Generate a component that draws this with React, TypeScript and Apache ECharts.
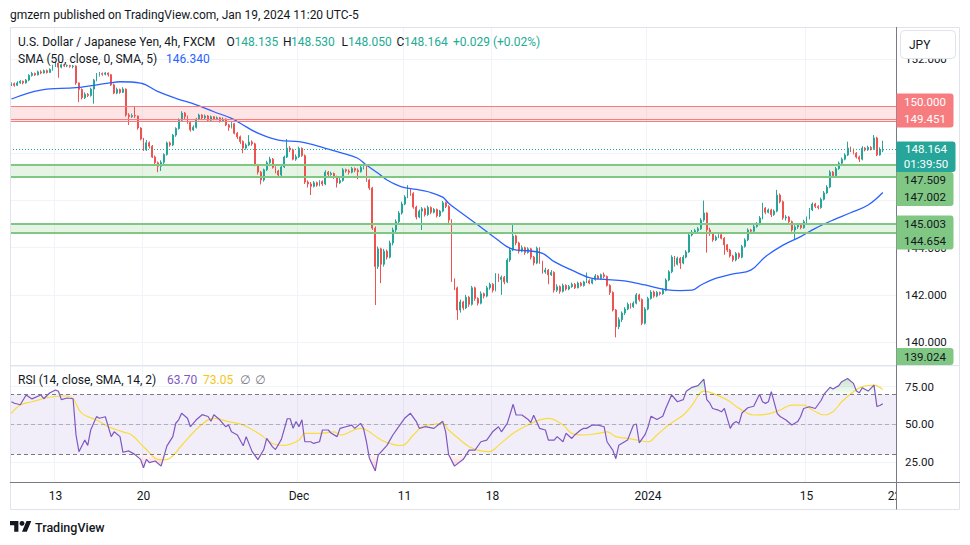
import React, { useEffect, useRef } from "react";
import * as echarts from "echarts";

echarts.graphic.registerShape(
  "tvlogo",
  echarts.graphic.extendPath("M14 22H7V11H0V4h14v18zM28 22h-8l7.5-18h8L28 22z", {})
);

// ---------- DATA ----------
const FIRST_OPEN = 150.9;

const closes = [
  150.95, 150.88, 150.98, 151.05, 150.98, 151.10, 151.30, 151.38, 151.32, 151.45,
  151.40, 151.50, 151.42, 151.55, 151.70, 151.82, 151.65, 151.75, 151.70, 151.72,
  151.68, 151.70, 150.98, 150.70, 150.35, 150.50, 150.45, 150.72, 151.10, 151.30,
  151.38, 151.35, 151.40, 151.33, 150.90, 150.55, 150.70, 150.58, 150.72, 149.62,
  149.55, 149.60, 149.58, 149.07, 148.60, 148.14, 148.45, 148.30, 147.84, 147.60,
  147.45, 147.62, 147.95, 148.44, 148.35, 148.77, 149.05, 149.40, 149.70, 149.55,
  149.30, 148.99, 149.10, 149.45, 149.62, 149.50, 149.58, 149.40, 149.55, 149.45,
  149.50, 149.38, 149.45, 149.20, 149.10, 149.25, 148.85, 148.70, 148.50, 148.22,
  148.35, 148.48, 148.40, 147.50, 147.20, 146.87, 147.30, 147.60, 147.75, 147.40,
  147.25, 147.08, 147.42, 147.84, 148.22, 148.15, 147.75, 147.85, 148.20, 147.90,
  146.78, 146.70, 146.60, 146.75, 146.65, 146.80, 146.70, 147.20, 147.10, 147.15,
  147.00, 146.75, 146.85, 147.30, 147.25, 147.20, 147.35, 147.28, 147.22, 147.40,
  147.45, 146.87, 146.53, 144.83, 143.20, 143.95, 143.30, 143.85, 143.60, 144.20,
  144.75, 145.10, 145.47, 145.85, 146.15, 146.45, 146.30, 145.72, 145.30, 145.55,
  145.65, 145.40, 145.70, 145.50, 145.62, 145.35, 145.55, 145.90, 145.75, 145.17,
  142.63, 142.30, 141.36, 141.70, 141.45, 141.90, 141.60, 142.30, 141.85, 141.65,
  142.05, 141.95, 142.30, 142.45, 142.20, 142.84, 142.65, 142.75, 142.55, 143.48,
  143.90, 144.50, 144.20, 143.85, 144.00, 143.80, 143.95, 143.60, 143.35, 143.98,
  143.40, 142.97, 143.05, 142.85, 142.95, 142.20, 142.35, 142.15, 142.40, 142.25,
  142.35, 142.45, 142.30, 142.50, 142.40, 142.55, 142.60, 142.50, 142.65, 142.80,
  142.70, 142.85, 142.78, 142.40, 142.10, 141.36, 140.65, 140.95, 141.23, 141.40,
  141.60, 141.50, 141.65, 142.00, 141.80, 140.80, 141.40, 141.85, 142.12, 141.95,
  142.10, 142.05, 142.20, 142.63, 142.98, 143.60, 143.30, 143.55, 143.35, 143.60,
  143.82, 144.54, 144.65, 144.72, 144.80, 145.17, 145.47, 144.75, 144.60, 144.33,
  144.45, 144.55, 144.40, 144.12, 143.90, 143.65, 143.48, 143.75, 143.60, 144.05,
  144.33, 144.75, 144.70, 144.90, 145.00, 145.26, 145.68, 145.50, 145.60, 145.40,
  145.55, 146.23, 145.95, 145.26, 145.30, 145.10, 144.75, 144.88, 144.95, 144.85,
  145.10, 145.26, 145.60, 145.85, 145.75, 145.70, 146.05, 146.32, 146.57, 147.20,
  147.05, 147.35, 147.58, 147.75, 147.93, 148.22, 148.15, 148.00, 147.84, 147.75,
  148.22, 148.15, 148.25, 148.20, 148.65, 147.93, 148.135, 148.164,
];

const highs = [
  151.00, 151.00, 151.05, 151.10, 151.08, 151.15, 151.35, 151.45, 151.42, 151.50,
  151.52, 151.55, 151.55, 151.60, 151.75, 151.90, 151.85, 151.80, 151.78, 151.76,
  151.75, 151.74, 151.72, 151.00, 150.75, 150.58, 150.55, 150.78, 151.15, 151.40,
  151.44, 151.42, 151.44, 151.42, 151.35, 150.95, 150.78, 150.74, 150.80, 150.75,
  149.70, 149.68, 149.96, 149.60, 149.10, 148.65, 148.56, 148.50, 148.35, 147.90,
  147.65, 147.70, 148.00, 148.50, 148.50, 148.82, 149.10, 149.48, 149.78, 149.75,
  149.60, 149.35, 149.18, 149.50, 149.68, 149.66, 149.64, 149.62, 149.60, 149.58,
  149.56, 149.54, 149.52, 149.48, 149.25, 149.32, 149.28, 148.90, 148.75, 148.55,
  148.42, 148.77, 148.55, 148.45, 147.55, 147.25, 147.35, 147.68, 147.85, 147.80,
  147.45, 147.30, 147.48, 147.90, 148.60, 148.30, 148.20, 147.95, 148.28, 148.25,
  147.95, 146.85, 146.78, 146.82, 146.80, 146.86, 146.85, 147.28, 147.25, 147.22,
  147.18, 147.05, 146.95, 147.38, 147.35, 147.32, 147.42, 147.40, 147.36, 147.50,
  147.55, 147.50, 146.92, 146.58, 144.90, 144.05, 144.00, 143.95, 143.92, 144.30,
  144.85, 145.20, 145.55, 145.95, 146.22, 146.65, 146.50, 146.35, 145.78, 145.62,
  145.72, 145.70, 145.78, 145.75, 145.68, 145.66, 145.60, 145.98, 145.95, 145.80,
  145.20, 142.70, 142.35, 141.80, 141.75, 142.00, 141.95, 142.38, 142.35, 141.90,
  142.15, 142.10, 142.38, 142.52, 142.50, 142.92, 142.90, 142.82, 142.80, 143.55,
  144.00, 144.96, 144.55, 144.25, 144.10, 144.05, 144.02, 144.00, 143.65, 144.05,
  144.02, 143.45, 143.15, 143.10, 143.05, 143.00, 142.45, 142.40, 142.48, 142.45,
  142.42, 142.52, 142.50, 142.56, 142.55, 142.60, 142.95, 142.66, 142.72, 142.88,
  142.85, 142.90, 142.95, 142.82, 142.45, 142.15, 141.40, 141.05, 141.30, 141.48,
  141.68, 141.65, 141.72, 142.08, 142.05, 141.85, 141.48, 141.92, 142.20, 142.18,
  142.16, 142.14, 142.28, 142.70, 143.05, 143.68, 143.65, 143.62, 143.60, 143.68,
  143.90, 144.62, 144.75, 144.80, 144.88, 145.25, 146.00, 145.50, 144.85, 144.65,
  144.52, 144.62, 144.60, 144.45, 144.15, 143.95, 143.70, 143.82, 143.80, 144.12,
  144.40, 144.82, 144.80, 144.98, 145.08, 145.34, 145.90, 145.72, 145.66, 145.65,
  145.62, 146.45, 146.30, 146.00, 145.38, 145.34, 145.15, 144.95, 145.02, 145.00,
  145.18, 145.32, 145.68, 145.92, 145.90, 145.80, 146.12, 146.40, 146.65, 147.28,
  147.25, 147.42, 147.65, 147.82, 148.00, 148.49, 148.28, 148.20, 148.05, 147.90,
  148.30, 148.26, 148.32, 148.30, 148.77, 148.70, 148.25, 148.53,
];

const lows = [
  150.85, 150.82, 150.85, 150.95, 150.92, 150.95, 151.05, 151.25, 151.28, 151.30,
  151.35, 151.38, 151.38, 151.40, 151.50, 151.65, 151.20, 151.60, 151.65, 151.65,
  151.62, 151.60, 150.90, 150.17, 150.28, 150.30, 150.38, 150.40, 150.10, 151.05,
  151.25, 151.28, 151.30, 151.25, 150.85, 150.50, 150.50, 150.52, 150.55, 149.55,
  149.20, 149.50, 149.50, 149.00, 148.55, 148.10, 148.10, 148.20, 147.80, 147.50,
  147.20, 147.25, 147.55, 147.90, 148.28, 148.30, 148.70, 149.00, 149.35, 149.45,
  149.25, 148.92, 148.95, 149.05, 149.40, 149.45, 149.45, 149.35, 149.35, 149.40,
  149.40, 149.30, 149.32, 149.15, 148.95, 149.05, 148.80, 148.60, 148.40, 148.00,
  148.15, 148.30, 148.32, 147.45, 147.10, 146.68, 146.80, 147.25, 147.55, 147.35,
  147.15, 146.95, 147.00, 147.38, 147.80, 148.05, 147.70, 147.68, 147.80, 147.85,
  146.70, 146.55, 146.23, 146.55, 146.58, 146.60, 146.62, 146.65, 147.02, 147.05,
  146.92, 146.55, 146.70, 146.80, 147.18, 147.10, 147.15, 147.20, 146.90, 147.18,
  147.32, 146.80, 146.45, 144.75, 141.57, 143.10, 142.50, 143.20, 143.50, 143.55,
  144.10, 144.65, 145.00, 145.40, 145.80, 146.10, 146.20, 145.65, 145.20, 145.25,
  144.75, 145.32, 145.35, 145.42, 145.45, 145.28, 145.30, 145.50, 145.68, 145.05,
  142.55, 142.20, 140.94, 141.25, 141.35, 141.40, 141.50, 141.55, 141.75, 141.55,
  141.60, 141.85, 141.90, 142.22, 142.10, 142.15, 142.55, 142.00, 142.45, 142.50,
  143.40, 143.85, 144.10, 143.75, 143.80, 143.70, 143.75, 143.50, 143.25, 143.30,
  143.32, 142.90, 142.90, 142.45, 142.80, 142.10, 142.12, 142.05, 142.10, 142.18,
  142.20, 142.30, 142.25, 142.28, 142.35, 142.35, 142.50, 142.45, 142.45, 142.60,
  142.65, 142.65, 142.70, 142.35, 142.00, 141.30, 140.20, 140.55, 140.85, 141.15,
  141.35, 141.42, 141.45, 141.60, 141.72, 140.72, 140.75, 141.35, 141.80, 141.88,
  141.90, 141.98, 142.00, 142.15, 142.58, 142.92, 143.20, 143.25, 143.10, 143.30,
  143.55, 143.78, 144.48, 144.58, 144.65, 144.75, 145.10, 143.79, 144.50, 144.25,
  144.28, 144.40, 144.35, 143.70, 143.82, 143.58, 143.40, 143.42, 143.52, 143.55,
  144.00, 144.28, 144.62, 144.65, 144.85, 144.95, 145.20, 145.42, 145.45, 145.30,
  145.35, 145.50, 145.88, 145.18, 145.15, 145.02, 144.68, 144.33, 144.80, 144.78,
  144.80, 145.05, 145.20, 145.55, 145.68, 145.62, 145.65, 146.00, 146.28, 146.52,
  146.98, 147.00, 147.30, 147.52, 147.70, 147.88, 148.05, 147.95, 147.78, 147.63,
  147.70, 148.08, 148.10, 148.12, 148.15, 147.88, 147.90, 148.05,
];

// SMA(50) line: [candle index, value]
const smaPoints: [number, number][] = [
  [0, 150.3], [10, 150.68], [22, 150.78], [33, 150.97], [37, 151.03], [44, 150.97],
  [50, 150.61], [56, 150.33], [63, 150.05], [69, 149.76], [75, 149.48], [78, 149.27],
  [84, 148.85], [91, 148.56], [98, 148.49], [101, 148.42], [107, 148.21], [113, 148.0],
  [118, 147.79], [121, 147.5], [125, 147.15], [128, 146.87], [133, 146.58], [138, 146.47],
  [142, 146.37], [147, 146.14], [149, 145.88], [152, 145.6], [159, 144.96], [165, 144.4],
  [171, 143.93], [176, 143.87], [181, 143.76], [185, 143.41], [191, 143.05], [198, 142.7],
  [202, 142.66], [209, 142.59], [216, 142.42], [223, 142.22], [228, 142.18], [232, 142.2],
  [235, 142.42], [240, 142.7], [246, 142.89], [252, 143.05], [257, 143.62], [263, 144.11],
  [269, 144.47], [274, 144.82], [280, 145.17], [286, 145.48], [292, 145.81], [297, 146.34],
];

// RSI(14): [candle index, value]
const rsiPoints: [number, number][] = [
  [0, 65], [1, 64], [3, 63], [5, 69.5], [7, 66.9], [10, 69.5], [11, 67], [13, 70.8], [15, 72.8],
  [16, 72], [17, 66.4], [19, 67.5], [21, 67], [22, 42.9], [23, 31.8], [25, 39.5], [26, 36],
  [27, 46.2], [29, 55.1], [30, 54], [32, 55], [34, 41.8], [35, 45], [37, 41.8], [38, 31.4],
  [40, 32.3], [42, 30], [44, 26.7], [45, 21.1], [46, 26.7], [47, 24.5], [49, 25.6], [51, 22.2],
  [53, 35.7], [55, 41.8], [56, 50.7], [57, 53], [58, 57.3], [60, 54], [61, 48.4], [63, 53],
  [65, 56.4], [67, 55.2], [68, 52], [69, 56.4], [71, 53], [73, 48.4], [74, 49.5], [75, 45],
  [77, 42.9], [79, 35.7], [80, 41.8], [82, 32], [84, 26.5], [86, 33.2], [87, 40.6], [89, 35],
  [90, 33.2], [92, 40], [94, 53.7], [95, 53.7], [96, 47.3], [97, 51.8], [98, 48.4], [99, 53],
  [100, 38.4], [102, 38.4], [103, 37.3], [105, 38.4], [106, 46.2], [108, 46.2], [109, 44],
  [111, 41.8], [112, 47.3], [114, 48.4], [116, 49.5], [117, 47.3], [119, 50.6], [120, 47.3],
  [121, 38.4], [122, 27.5], [124, 19], [125, 29.5], [128, 36], [129, 39.5], [130, 42.9],
  [132, 48.4], [134, 54], [136, 57.3], [138, 51.8], [139, 47.3], [141, 48.4], [144, 47.3],
  [147, 52], [148, 45], [149, 29.9], [151, 22.2], [154, 26.7], [156, 32.8], [158, 32.8],
  [160, 38.4], [162, 39.5], [164, 45], [166, 48.4], [167, 45], [169, 50.6], [171, 63.3],
  [172, 56.2], [174, 56.2], [176, 53.4], [177, 51.2], [178, 56], [180, 47.3], [182, 46.2],
  [183, 39.5], [185, 39.5], [186, 41.8], [188, 38.4], [189, 44], [191, 40.6], [192, 42.9],
  [194, 46.2], [195, 47.3], [196, 47.3], [198, 49.5], [200, 49.5], [202, 48.4], [203, 38.4],
  [205, 32.7], [206, 27.1], [207, 36], [210, 39.5], [212, 49.5], [213, 50.2], [214, 37.7],
  [216, 43.3], [217, 48.4], [218, 55.4], [220, 53.2], [222, 55.4], [223, 60.5], [225, 69.5],
  [227, 65], [229, 66.4], [230, 72], [232, 74.6], [234, 75.7], [236, 80.1], [237, 66.4],
  [238, 64.2], [239, 60.5], [241, 59.4], [242, 58.3], [243, 60.5], [244, 53.8], [245, 47.3],
  [246, 50.6], [247, 51.8], [248, 50.6], [249, 57.5], [251, 61], [253, 62], [255, 70],
  [256, 65], [257, 63.9], [258, 65], [259, 71.7], [261, 57.3], [262, 55.2], [264, 52.9],
  [266, 49.5], [268, 51.8], [269, 55.2], [270, 60.5], [272, 61.7], [274, 60.5], [276, 66],
  [277, 70], [279, 74.6], [280, 73.5], [282, 75.7], [283, 78.3], [285, 80.5], [287, 77.2],
  [288, 72.1], [289, 71], [290, 74.3], [292, 72.1], [294, 76], [295, 61.8], [296, 62.5],
  [297, 63.7],
];

// RSI-based MA(14)
const rsiMaPoints: [number, number][] = [
  [0, 57.3], [3, 62.8], [7, 65], [13, 68], [19, 68.8], [21, 67], [24, 57.3], [29, 52.9],
  [33, 48.4], [38, 45], [41, 42.9], [45, 35.1], [51, 26.3], [54, 27.5], [58, 35.9], [64, 48.4],
  [69, 54], [74, 51.8], [79, 49.5], [85, 42.9], [89, 37.2], [93, 36], [98, 39.5], [100, 44],
  [105, 44], [110, 45], [112, 42.9], [119, 47.3], [121, 46.2], [126, 39.6], [130, 36.7],
  [133, 35.9], [137, 42.9], [140, 48.4], [144, 50], [147, 50.6], [149, 46.2], [153, 39.6],
  [156, 35.1], [160, 32.3], [163, 31.8], [166, 36], [171, 44], [176, 49.5], [180, 52.9],
  [183, 54], [188, 49.5], [191, 44], [195, 42.9], [200, 44], [203, 45], [206, 41.8],
  [210, 40.7], [213, 39.6], [217, 38.4], [220, 42.9], [224, 49.5], [229, 56.2], [232, 62.8],
  [236, 72.1], [239, 70.6], [244, 66.2], [248, 60.6], [253, 56.2], [257, 56.6], [262, 59.5],
  [266, 62.8], [270, 62.8], [273, 59.5], [277, 56.2], [280, 58.4], [283, 65], [287, 71.7],
  [290, 75], [294, 76], [297, 73.05],
];

const CATEGORY_COUNT = 302;
const timeLabelIndex = [15, 45, 98, 134, 164, 217, 271, 301];
const timeLabelText = ["13", "20", "Dec", "11", "18", "2024", "15", "22"];

const PRICE_MIN = 139.03;
const PRICE_MAX = 153.35;
const RSI_MIN = 11.64;
const RSI_MAX = 88.76;
// price-scale ticks hidden under the level labels in the reference
const hiddenPriceTicks = [146, 148, 150];

const redZone = [150.0, 149.37];
const redLevel = 149.451;
const greenZoneA = [147.509, 147.002];
const greenZoneB = [145.003, 144.654];
const lastPrice = 148.164;
const lowLevel = 139.024;
const countdown = "01:39:50";

const legendOHLC = ["148.135", "148.530", "148.050", "148.164"];
const legendChange = "+0.029 (+0.02%)";
const smaLast = "146.340";
const rsiLast = "63.70";
const rsiMaLast = "73.05";

// ---------- STYLE ----------
const UP = "#26a69a";
const DOWN = "#ef5350";
const DARK = "#131722";
const GRID = "#f0f3fa";
const FONT = 'Roboto, "Noto Sans", "DejaVu Sans", sans-serif';

const App: React.FC = () => {
  const ref = useRef<HTMLDivElement>(null);

  useEffect(() => {
    if (!ref.current) return;
    const chart = echarts.init(ref.current, null, { renderer: "svg" });

    const candles = closes.map((c, i) => [
      i === 0 ? FIRST_OPEN : closes[i - 1],
      c,
      lows[i],
      highs[i],
    ]);
    const categories = Array.from({ length: CATEGORY_COUNT }, (_, i) => String(i));
    const isLabel = (idx: number) => timeLabelIndex.indexOf(idx) >= 0;
    const isGrid = (idx: number) => isLabel(idx) && idx !== 301;

    const obFill = rsiPoints.map(([i, v]) => [i, Math.max(v, 70)]);
    const osFill = rsiPoints.map(([i, v]) => [i, Math.min(v, 30)]);

    const xBase = {
      type: "category" as const,
      data: categories,
      boundaryGap: true,
      axisLine: { show: false },
      axisTick: { show: false },
      splitLine: {
        show: true,
        interval: (idx: number) => isGrid(idx),
        lineStyle: { color: GRID, width: 1 },
      },
    };

    const option: any = {
      animation: false,
      backgroundColor: "#ffffff",
      grid: [
        { left: 10, top: 27, width: 886, height: 338, outerBoundsMode: "none" },
        { left: 10, top: 366, width: 886, height: 116, outerBoundsMode: "none" },
      ],
      xAxis: [
        { ...xBase, gridIndex: 0, axisLabel: { show: false } },
        {
          ...xBase,
          gridIndex: 1,
          axisLabel: {
            show: true,
            interval: (idx: number) => isLabel(idx),
            formatter: (_v: string, idx: number) => {
              const k = timeLabelIndex.indexOf(idx);
              return k >= 0 ? timeLabelText[k] : "";
            },
            color: DARK,
            fontSize: 12,
            fontFamily: FONT,
            margin: 8,
          },
        },
      ],
      yAxis: [
        {
          type: "value",
          gridIndex: 0,
          position: "right",
          min: PRICE_MIN,
          max: PRICE_MAX,
          minInterval: 2,
          maxInterval: 2,
          axisLine: { show: false },
          axisTick: { show: false },
          axisLabel: {
            formatter: (v: number) =>
              hiddenPriceTicks.indexOf(Math.round(v)) >= 0 ? "" : v.toFixed(3),
            color: DARK,
            fontSize: 11.5,
            fontFamily: FONT,
            margin: 9,
            showMinLabel: false,
            showMaxLabel: false,
          },
          splitLine: { lineStyle: { color: GRID } },
        },
        {
          type: "value",
          gridIndex: 1,
          position: "right",
          min: RSI_MIN,
          max: RSI_MAX,
          minInterval: 25,
          maxInterval: 25,
          axisLine: { show: false },
          axisTick: { show: false },
          axisLabel: {
            formatter: (v: number) => v.toFixed(2),
            color: DARK,
            fontSize: 11.5,
            fontFamily: FONT,
            margin: 9,
            showMinLabel: false,
            showMaxLabel: false,
          },
          splitLine: { lineStyle: { color: GRID } },
        },
      ],
      series: [
        {
          type: "candlestick",
          xAxisIndex: 0,
          yAxisIndex: 0,
          data: candles,
          barWidth: 1.4,
          z: 2,
          itemStyle: {
            color: UP,
            color0: DOWN,
            borderColor: UP,
            borderColor0: DOWN,
            borderWidth: 1,
          },
          markArea: {
            silent: true,
            data: [
              [
                { yAxis: redZone[0], itemStyle: { color: "rgba(247,124,128,0.2)" } },
                { yAxis: redZone[1] },
              ],
              [
                { yAxis: greenZoneA[0], itemStyle: { color: "rgba(129,199,132,0.2)" } },
                { yAxis: greenZoneA[1] },
              ],
              [
                { yAxis: greenZoneB[0], itemStyle: { color: "rgba(129,199,132,0.2)" } },
                { yAxis: greenZoneB[1] },
              ],
            ],
          },
          markLine: {
            silent: true,
            symbol: "none",
            label: { show: false },
            data: [
              { yAxis: redZone[0], lineStyle: { color: "#f77c80", width: 1, type: "solid" } },
              { yAxis: redZone[1], lineStyle: { color: "#f77c80", width: 1, type: "solid" } },
              { yAxis: redLevel, lineStyle: { color: "#f77c80", width: 1, type: "solid" } },
              { yAxis: greenZoneA[0], lineStyle: { color: "#81c784", width: 2, type: "solid" } },
              { yAxis: greenZoneA[1], lineStyle: { color: "#81c784", width: 2, type: "solid" } },
              { yAxis: greenZoneB[0], lineStyle: { color: "#81c784", width: 2, type: "solid" } },
              { yAxis: greenZoneB[1], lineStyle: { color: "#81c784", width: 2, type: "solid" } },
              { yAxis: lastPrice, lineStyle: { color: UP, width: 1, type: [1, 2] } },
            ],
          },
        },
        {
          type: "line",
          name: "SMA",
          xAxisIndex: 0,
          yAxisIndex: 0,
          data: smaPoints,
          smooth: 0.4,
          symbol: "none",
          z: 4,
          lineStyle: { color: "#2962ff", width: 1.3 },
        },
        {
          type: "line",
          name: "OB",
          xAxisIndex: 1,
          yAxisIndex: 1,
          data: obFill,
          symbol: "none",
          z: 1,
          lineStyle: { width: 0, opacity: 0 },
          areaStyle: {
            origin: 70,
            color: new echarts.graphic.LinearGradient(0, 0, 0, 1, [
              { offset: 0, color: "rgba(76,175,80,0.45)" },
              { offset: 1, color: "rgba(76,175,80,0.05)" },
            ]),
          },
        },
        {
          type: "line",
          name: "OS",
          xAxisIndex: 1,
          yAxisIndex: 1,
          data: osFill,
          symbol: "none",
          z: 1,
          lineStyle: { width: 0, opacity: 0 },
          areaStyle: {
            origin: 30,
            color: new echarts.graphic.LinearGradient(0, 0, 0, 1, [
              { offset: 0, color: "rgba(242,54,69,0.05)" },
              { offset: 1, color: "rgba(242,54,69,0.4)" },
            ]),
          },
        },
        {
          type: "line",
          name: "RSI-MA",
          xAxisIndex: 1,
          yAxisIndex: 1,
          data: rsiMaPoints,
          smooth: 0.4,
          symbol: "none",
          z: 3,
          lineStyle: { color: "#f9dc3c", width: 1.2 },
        },
        {
          type: "line",
          name: "RSI",
          xAxisIndex: 1,
          yAxisIndex: 1,
          data: rsiPoints,
          symbol: "none",
          z: 4,
          lineStyle: { color: "#7e57c2", width: 1.2 },
          markArea: {
            silent: true,
            data: [
              [
                { yAxis: 70, itemStyle: { color: "rgba(126,87,194,0.1)" } },
                { yAxis: 30 },
              ],
            ],
          },
          markLine: {
            silent: true,
            symbol: "none",
            label: { show: false },
            data: [
              { yAxis: 70, lineStyle: { color: "#787b86", width: 1, type: [4, 3] } },
              { yAxis: 50, lineStyle: { color: "rgba(120,123,134,0.5)", width: 1, type: [4, 3] } },
              { yAxis: 30, lineStyle: { color: "#787b86", width: 1, type: [4, 3] } },
            ],
          },
        },
      ],
    };

    chart.setOption(option);

    const yp = (v: number) => chart.convertToPixel({ yAxisIndex: 0 }, v) as number;
    const paneBottom = 27 + 338;

    const txt = (
      id: string,
      x: number,
      y: number,
      text: string,
      fill: string,
      size = 12,
      weight = "normal",
      align = "left"
    ) => ({
      type: "text",
      id,
      x,
      y,
      z: 120,
      silent: true,
      style: {
        text,
        fill,
        font: `${weight} ${size}px ${FONT}`,
        align,
        verticalAlign: "middle",
      },
    });

    const yRed = yp(redLevel);
    const yLast = yp(lastPrice);
    const yGreenB = yp(greenZoneB[0]);

    const boxes = [
      {
        id: "bRed",
        top: yRed - 25.5,
        h: 34,
        w: 57,
        bg: "#f77c80",
        fg: "#ffffff",
        rows: [
          [redZone[0].toFixed(3), yRed - 17],
          [redLevel.toFixed(3), yRed],
        ],
      },
      {
        id: "bLast",
        top: yLast - 8,
        h: 30.5,
        w: 59,
        bg: "#26a69a",
        fg: "#ffffff",
        rows: [
          [lastPrice.toFixed(3), yLast],
          [countdown, yLast + 14.5],
        ],
      },
      {
        id: "bGA",
        top: yLast + 22.5,
        h: 34,
        w: 57,
        bg: "#81c784",
        fg: DARK,
        rows: [
          [greenZoneA[0].toFixed(3), yLast + 31],
          [greenZoneA[1].toFixed(3), yLast + 48],
        ],
      },
      {
        id: "bGB",
        top: yGreenB - 8.5,
        h: 34,
        w: 57,
        bg: "#81c784",
        fg: DARK,
        rows: [
          [greenZoneB[0].toFixed(3), yGreenB],
          [greenZoneB[1].toFixed(3), yGreenB + 17],
        ],
      },
      {
        id: "bLow",
        top: paneBottom - 17,
        h: 17,
        w: 57,
        bg: "#81c784",
        fg: DARK,
        rows: [[lowLevel.toFixed(3), paneBottom - 8.5]],
      },
    ];

    const elements: any[] = [
      {
        type: "rect",
        id: "frame",
        z: 90,
        silent: true,
        shape: { x: 10.5, y: 27.5, width: 949, height: 482 },
        style: { fill: "none", stroke: "#e0e3eb", lineWidth: 1 },
      },
      {
        type: "line",
        id: "sep",
        z: 90,
        silent: true,
        shape: { x1: 10, y1: 365.5, x2: 960, y2: 365.5 },
        style: { stroke: "#e0e3eb", lineWidth: 1 },
      },
      {
        type: "rect",
        id: "cover",
        z: 99,
        silent: true,
        shape: { x: 896.5, y: 484, width: 62.5, height: 25 },
        style: { fill: "#ffffff" },
      },
      {
        type: "line",
        id: "taxis",
        z: 100,
        silent: true,
        shape: { x1: 10, y1: 482.5, x2: 960, y2: 482.5 },
        style: { stroke: "#787b86", lineWidth: 1 },
      },
      {
        type: "line",
        id: "paxis",
        z: 100,
        silent: true,
        shape: { x1: 896.5, y1: 27, x2: 896.5, y2: 509.5 },
        style: { stroke: "#787b86", lineWidth: 1 },
      },
      {
        type: "rect",
        id: "jpyBox",
        z: 110,
        silent: true,
        shape: { x: 900.5, y: 30.5, width: 55, height: 28, r: 4 },
        style: { fill: "#ffffff", stroke: "#e0e3eb", lineWidth: 1 },
      },
      txt("jpy", 909, 44.5, "JPY", DARK, 12),
      txt(
        "hdr",
        10,
        15,
        "gmzern published on TradingView.com, Jan 19, 2024 11:20 UTC-5",
        DARK,
        12
      ),
      txt("lg1", 18, 42, "U.S. Dollar / Japanese Yen, 4h, FXCM", DARK, 12),
      txt("lgO", 226.5, 42, "O", DARK, 12),
      txt("lgOv", 234.5, 42, legendOHLC[0], "#22ab94", 12),
      txt("lgH", 283, 42, "H", DARK, 12),
      txt("lgHv", 291, 42, legendOHLC[1], "#22ab94", 12),
      txt("lgL", 341.5, 42, "L", DARK, 12),
      txt("lgLv", 348, 42, legendOHLC[2], "#22ab94", 12),
      txt("lgC", 396.5, 42, "C", DARK, 12),
      txt("lgCv", 404, 42, legendOHLC[3], "#22ab94", 12),
      txt("lgChg", 453, 42, legendChange, "#22ab94", 12),
      txt("lgSma", 18, 59, "SMA (50, close, 0, SMA, 5)", DARK, 12),
      txt("lgSmaV", 166, 59, smaLast, "#2962ff", 12),
      txt("lgRsi", 18, 380, "RSI (14, close, SMA, 14, 2)", DARK, 12),
      txt("lgRsiV", 167, 380, rsiLast, "#7e57c2", 12),
      txt("lgRsiMa", 203, 380, rsiMaLast, "#f5c518", 12),
      txt("lgN1", 240, 380, "∅", "#787b86", 12),
      txt("lgN2", 255, 380, "∅", "#787b86", 12),
      {
        type: "tvlogo",
        id: "logo",
        x: 10,
        y: 518.6,
        scaleX: 0.6,
        scaleY: 0.6,
        z: 110,
        silent: true,
        style: { fill: DARK },
      },
      {
        type: "circle",
        id: "logoDot",
        z: 110,
        silent: true,
        shape: { cx: 10 + 20 * 0.6, cy: 518.6 + 8 * 0.6, r: 4 * 0.6 },
        style: { fill: DARK },
      },
      txt("brand", 35, 527, "TradingView", DARK, 12.5, "500"),
    ];

    boxes.forEach((b) => {
      elements.push({
        type: "rect",
        id: b.id,
        z: 112,
        silent: true,
        shape: { x: 896.5, y: b.top, width: b.w, height: b.h, r: [0, 3, 3, 0] },
        style: { fill: b.bg },
      });
      b.rows.forEach((r, k) => {
        elements.push(
          txt(`${b.id}_${k}`, 896.5 + b.w / 2, r[1] as number, r[0] as string, b.fg, 11.5, "normal", "center")
        );
      });
    });

    chart.setOption({ graphic: { elements } });

    return () => {
      chart.dispose();
    };
  }, []);

  return (
    <div
      ref={ref}
      style={{ position: "absolute", left: 0, top: 0, width: 970, height: 545 }}
    />
  );
};

export default App;
